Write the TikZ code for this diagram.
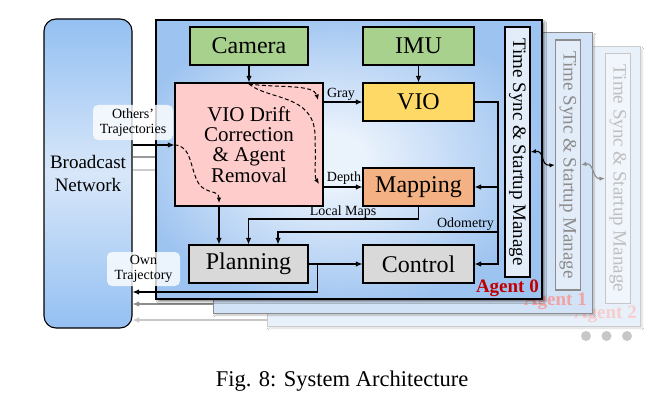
\documentclass[tikz,border=0pt]{standalone}
\usepackage{fontspec}
\setmainfont{Liberation Serif}
\usetikzlibrary{arrows.meta,shadows.blur}
\definecolor{agin}{HTML}{EAF2FC}
\definecolor{agout}{HTML}{9DC3F0}
\definecolor{bcb}{HTML}{94C0F2}
\definecolor{bcm}{HTML}{D8E7F9}
\definecolor{camg}{HTML}{A9D18E}
\definecolor{vioy}{HTML}{FFD966}
\definecolor{mapo}{HTML}{F4B183}
\definecolor{drp}{HTML}{FFCCCC}
\definecolor{gry}{HTML}{D9D9D9}
\definecolor{tsf}{HTML}{E3EDF9}
\definecolor{ag1f}{HTML}{D2E3F7}
\definecolor{ag2f}{HTML}{E8F0FA}
\definecolor{redA}{HTML}{C00000}
\definecolor{redB}{HTML}{F2A2A2}
\definecolor{redC}{HTML}{F7CDCD}
\pgfdeclareradialshading{agentsh}{\pgfpoint{-3bp}{0bp}}{color(0bp)=(agin); color(5bp)=(agin); color(27bp)=(agout); color(50bp)=(agout)}
\begin{document}
\begin{tikzpicture}[x=1pt,y=-1pt,
  box/.style={draw=black,line width=1.1pt,inner sep=0pt,minimum height=38pt,font=\fontsize{24}{28}\selectfont},
  arr/.style={line width=1.1pt,-{Latex[length=6.5pt,width=5.5pt]}},
  darr/.style={line width=1pt,dash pattern=on 4pt off 2.5pt,-{Latex[length=5.5pt,width=4.5pt]}},
  lbl/.style={font=\fontsize{14}{15}\selectfont,inner sep=1pt},
  tag/.style={fill=white,fill opacity=0.8,text opacity=1,rounded corners=5pt,font=\fontsize{14}{14.5}\selectfont,align=center,inner sep=0pt},
  tsbox/.style={rotate=-90,minimum width=250pt,minimum height=25pt,inner sep=0pt,line width=1.1pt,font=\fontsize{19}{22}\selectfont},
  agtag/.style={font=\fontsize{19}{22}\selectfont\bfseries,inner sep=0pt,anchor=base east},
  tsarr/.style={line width=1.1pt,{Latex[length=5.5pt,width=4.5pt]}-{Latex[length=5.5pt,width=4.5pt]}}]
\useasboundingbox (0,0) rectangle (666,401);
\fill[white] (0,0) rectangle (666,401);

% broadcast network
\node[draw=black,line width=1.1pt,rounded corners=12pt,top color=bcb,bottom color=bcb,middle color=bcm,
  minimum width=88pt,minimum height=309pt,inner sep=0pt,align=center,font=\fontsize{19}{24}\selectfont]
  (bcast) at (88,173.5) {Broadcast\\Network};

% agent 2
\path[draw=black!20,line width=1pt,fill=ag2f,blur shadow={shadow xshift=2pt,shadow yshift=-2pt,shadow opacity=15}]
  (267,47) rectangle (640,326);
\node[tsbox,draw=black!22,fill=ag2f!60!white,text=black!25] (ts2) at (618,178.5) {Time Sync \& Startup Manage};
\node[agtag,text=redC] (ag2) at (637,318) {Agent 2};

% agent 1
\path[draw=black!45,line width=1pt,fill=ag1f,blur shadow={shadow xshift=2pt,shadow yshift=-2pt,shadow opacity=25}]
  (213,33) rectangle (592,313);
\node[tsbox,draw=black!45,fill=tsf,text=black!45] (ts1) at (568,165) {Time Sync \& Startup Manage};
\node[agtag,text=redB] (ag1) at (587,305) {Agent 1};

% lines to other agents
\draw[line width=1.1pt,black!40] (bcast.east |- 0,157) -- (156,157);
\draw[line width=1.1pt,black!20] (bcast.east |- 0,170) -- (156,170);
\coordinate (a1l) at (213,304);
\coordinate (a2l) at (268,320);
\draw[arr,black!45] (a1l) -- (bcast.east |- a1l);
\draw[arr,black!22] (a2l) -- (bcast.east |- a2l);

% agent 0
\path[draw=black,line width=1.1pt,shading=agentsh,blur shadow={shadow xshift=2.5pt,shadow yshift=-2.5pt,shadow opacity=50}]
  (156,20) rectangle (542,299);
\node[tsbox,draw=black,fill=tsf] (ts0) at (517.5,152) {Time Sync \& Startup Manage};
\node[agtag,text=redA] (ag0) at (539,292) {Agent 0};

\node[box,fill=camg,minimum width=118pt] (camera) at (249,46) {Camera};
\node[box,fill=camg,minimum width=111pt] (imu) at (418.5,46) {IMU};
\node[box,fill=vioy,minimum width=111pt] (vio) at (418.5,102) {VIO};
\node[box,fill=mapo,minimum width=111pt] (mapping) at (418.5,187) {Mapping};
\node[box,fill=gry,minimum width=111pt] (control) at (418.5,264) {Control};
\node[box,fill=gry,minimum width=119pt] (planning) at (248.5,264) {Planning};
\node[box,fill=drp,minimum width=148pt,minimum height=123pt,align=center,font=\fontsize{21}{20.4}\selectfont]
  (drift) at (249,144.5) {VIO Drift\\Correction\\\& Agent\\Removal};

% connectors
\draw[arr] (camera.south) -- (drift.north);
\draw[arr] (imu.south) -- (vio.north);
\draw[arr] (drift.east |- vio.west) -- (vio.west);
\draw[arr] (drift.east |- mapping.west) -- (mapping.west);
\node[lbl] (lgray) at (341,94) {Gray};
\node[lbl] (ldepth) at (344,178) {Depth};
\coordinate (bus) at (498,102);
\draw[arr] (vio.east) -- (bus) |- (control.east);
\draw[arr] (bus |- mapping.east) -- (mapping.east);
\draw[arr] (bus |- 0,232) -| ([xshift=29.5pt]planning.north);
\node[lbl,anchor=south east] (lodo) at (495,232) {Odometry};
\draw[arr] (mapping.south) -- (mapping.south |- 0,219) -| (planning.north);
\node[lbl] (lmaps) at (343,212.5) {Local Maps};
\draw[arr] (drift.south -| 219,0) -- (planning.north -| 219,0);
\draw[arr] (planning.east) -- (control.west);
\draw[arr] ([xshift=9pt]planning.east) |- (bcast.east |- 0,292);
\draw[arr] (bcast.east |- 0,145) -- (drift.west |- 0,145);

% dashed flows
\coordinate (cin) at (249,84);
\draw[darr] (cin) .. controls (278,88) and (314,84) .. (318,100);
\draw[darr] (cin) .. controls (268,100) and (314,94) .. (315,135) .. controls (316,168) and (314,176) .. (319,184);
\draw[darr] (drift.west |- 0,145) .. controls (192,145) and (190,170) .. (199,184) .. controls (206,194) and (219,190) .. (219,203);

% time sync links
\draw[tsarr,black] (ts0.north) .. controls (545,150) and (540,166) .. (ts1.south);
\draw[tsarr,black!45] (ts1.north) .. controls (594,162) and (592,179) .. (ts2.south);

% labels over the network
\node[tag,minimum width=80pt,minimum height=35pt] (tothers) at (133,122.5) {Others'\\Trajectories};
\node[tag,minimum width=73pt,minimum height=34pt] (town) at (143.5,269) {Own\\Trajectory};

% dots
\fill[black!22] (586,336) circle (5pt);
\fill[black!22] (606.5,336) circle (5pt);
\fill[black!22] (627,336) circle (5pt);

% caption
\node[font=\fontsize{22.5}{26}\selectfont,anchor=base,inner sep=0pt] (caption) at (342,386) {Fig. 8: System Architecture};
\end{tikzpicture}
\end{document}
